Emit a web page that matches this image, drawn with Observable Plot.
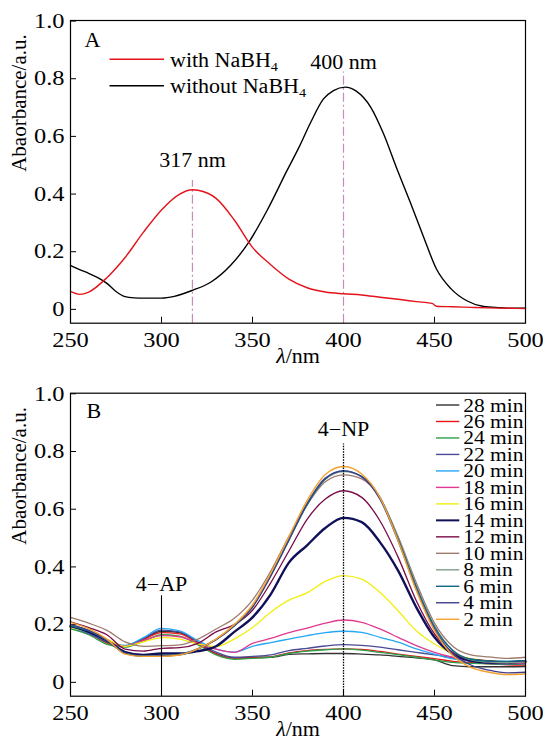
<!DOCTYPE html>
<html><head><meta charset="utf-8">
<script src="https://cdn.jsdelivr.net/npm/d3@7"></script>
<script src="https://cdn.jsdelivr.net/npm/@observablehq/plot@0.6"></script>
<style>
body{margin:0;background:#fff;}
#wrap{width:543px;}
#wrap svg{display:block;}
#wrap svg, #wrap svg text{font-family:"Liberation Serif","Times New Roman",serif !important;}
</style></head><body><div id="wrap"></div>
<script>
// ---------- shared axes ----------
const xTicks = [250, 300, 350, 400, 450, 500];
const yTicks = [0, 0.2, 0.4, 0.6, 0.8, 1.0];
const xDomain = [250, 500];
const yDomain = [-0.048, 1.002];
const xLabel = "λ/nm";
const yLabel = "Abaorbance/a.u.";

// ---------- panel A ----------
const aSeries = ["with NaBH4", "without NaBH4"];
const aColors = ["#e3121b", "#000000"];
const aRedNm  = [250, 255, 260, 270, 280, 290, 300, 310, 317, 320, 330, 340, 350, 360, 370, 380, 390, 400, 410, 420, 430, 440, 449, 451, 460, 470, 480, 490, 500];
const aRedAbs = [0.062, 0.052, 0.060, 0.110, 0.180, 0.267, 0.345, 0.400, 0.415, 0.413, 0.385, 0.310, 0.215, 0.155, 0.105, 0.075, 0.060, 0.054, 0.050, 0.042, 0.035, 0.027, 0.020, 0.011, 0.009, 0.007, 0.005, 0.004, 0.003];
const aBlackNm  = [250, 255, 260, 265, 270, 275, 280, 285, 290, 300, 307, 317, 327, 338, 348, 358, 369, 376, 382, 389, 394.5, 401, 407, 415, 422, 429, 437, 444, 451, 459, 468, 477, 486, 492, 500];
const aBlackAbs = [0.153, 0.138, 0.125, 0.110, 0.090, 0.062, 0.044, 0.040, 0.039, 0.039, 0.045, 0.066, 0.094, 0.153, 0.233, 0.343, 0.482, 0.568, 0.649, 0.730, 0.759, 0.771, 0.757, 0.701, 0.609, 0.493, 0.366, 0.251, 0.141, 0.072, 0.029, 0.010, 0.006, 0.004, 0.004];
const aPeakNm = [317, 400];
const aPeakTop = [0.447, 0.823];
const aPeakLabel = ["317 nm", "400 nm"];
const aPeakLabelAbs = [0.493, 0.834];

// ---------- panel B ----------
const bNm = [250, 260, 270, 280, 290, 300, 310, 320, 330, 340, 350, 360, 370, 380, 390, 400, 410, 420, 430, 440, 450, 460, 470, 480, 490, 500];
const bSeries = ["28 min", "26 min", "24 min", "22 min", "20 min", "18 min", "16 min", "14 min", "12 min", "10 min", "8 min", "6 min", "4 min", "2 min"];
const bColors = ["#333333", "#e8161b", "#2ca04a", "#4a4a96", "#25a7f5", "#e0398f", "#f2ee10", "#10105a", "#7a0b48", "#9e7a6e", "#839d8c", "#0f6a82", "#3e3e8e", "#f5a12e"];
const b28 = [0.190,0.170,0.138,0.125,0.150,0.177,0.172,0.138,0.100,0.085,0.087,0.087,0.097,0.099,0.100,0.100,0.098,0.095,0.090,0.085,0.078,0.058,0.054,0.054,0.054,0.055];
const b26 = [0.190,0.170,0.137,0.125,0.148,0.172,0.168,0.135,0.098,0.083,0.085,0.088,0.102,0.110,0.114,0.116,0.114,0.107,0.098,0.090,0.082,0.073,0.068,0.064,0.061,0.060];
const b24 = [0.185,0.165,0.132,0.122,0.142,0.165,0.160,0.130,0.095,0.080,0.083,0.087,0.100,0.108,0.113,0.116,0.112,0.104,0.096,0.087,0.078,0.069,0.066,0.064,0.062,0.064];
const b22 = [0.190,0.170,0.140,0.125,0.152,0.181,0.175,0.140,0.105,0.087,0.090,0.095,0.110,0.118,0.126,0.131,0.128,0.122,0.113,0.104,0.095,0.085,0.073,0.066,0.064,0.065];
const b20 = [0.190,0.172,0.145,0.128,0.155,0.187,0.178,0.145,0.115,0.105,0.125,0.138,0.150,0.162,0.172,0.177,0.173,0.156,0.139,0.116,0.098,0.081,0.075,0.073,0.073,0.075];
const b18 = [0.195,0.175,0.145,0.125,0.145,0.162,0.158,0.135,0.115,0.104,0.135,0.152,0.172,0.188,0.205,0.216,0.208,0.185,0.156,0.127,0.104,0.087,0.075,0.069,0.067,0.068];
const b16 = [0.190,0.175,0.150,0.125,0.140,0.155,0.150,0.133,0.124,0.150,0.190,0.243,0.285,0.310,0.350,0.370,0.358,0.312,0.248,0.179,0.133,0.100,0.082,0.075,0.070,0.070];
const b14 = [0.195,0.175,0.145,0.105,0.095,0.100,0.100,0.108,0.125,0.175,0.225,0.305,0.415,0.475,0.535,0.570,0.555,0.486,0.387,0.260,0.156,0.098,0.075,0.069,0.069,0.072];
const b12 = [0.210,0.190,0.165,0.115,0.108,0.118,0.120,0.135,0.175,0.200,0.250,0.345,0.455,0.565,0.635,0.664,0.641,0.560,0.434,0.283,0.168,0.104,0.080,0.075,0.070,0.072];
const b10 = [0.225,0.205,0.180,0.140,0.125,0.127,0.130,0.150,0.185,0.222,0.285,0.385,0.505,0.615,0.695,0.719,0.705,0.640,0.505,0.345,0.205,0.125,0.095,0.088,0.083,0.087];
const b8  = [0.198,0.180,0.147,0.100,0.091,0.092,0.097,0.117,0.150,0.197,0.262,0.370,0.493,0.615,0.703,0.730,0.713,0.642,0.500,0.335,0.195,0.112,0.078,0.070,0.068,0.070];
const b6  = [0.195,0.178,0.145,0.100,0.091,0.092,0.096,0.116,0.148,0.195,0.260,0.368,0.492,0.616,0.705,0.733,0.714,0.640,0.497,0.330,0.192,0.110,0.080,0.074,0.073,0.075];
const b4  = [0.200,0.180,0.148,0.100,0.090,0.091,0.095,0.115,0.148,0.196,0.262,0.370,0.495,0.620,0.708,0.733,0.712,0.635,0.490,0.322,0.185,0.100,0.060,0.042,0.033,0.035];
const b2  = [0.208,0.186,0.150,0.098,0.090,0.090,0.095,0.116,0.150,0.200,0.268,0.378,0.505,0.630,0.720,0.748,0.722,0.641,0.491,0.318,0.179,0.093,0.052,0.035,0.027,0.029];
const bValues = [b28, b26, b24, b22, b20, b18, b16, b14, b12, b10, b8, b6, b4, b2];
const bWidths = [1.3,1.3,1.3,1.3,1.3,1.3,1.3,2.4,1.3,1.3,1.3,1.3,1.3,1.4];
const bMarkNm = [300, 400];
const bMarkTop = [0.30, 0.826];
const bMarkLabel = ["4\u2212AP", "4\u2212NP"];
const bMarkLabelAbs = [0.318, 0.855];

// ---------- helpers ----------
const W = 543, H = 370, ML = 70, MR = 18;
const FONT = '"Liberation Serif", "Times New Roman", serif';
const FS = 20;            // general font size
const TICK_FS = 21;       // tick label font size
const STRETCH = 1.1;      // the original figure's glyphs are wider than tall
const TICK_STRETCH = 1.16;
const fmtY = d => d === 0 ? "0" : d.toFixed(1);

function panel(marginTop, marginBottom, marks) {
  const innerH = H - marginTop - marginBottom;
  const innerW = W - ML - MR;
  const svg = Plot.plot({
    width: W, height: H, marginLeft: ML, marginRight: MR, marginTop, marginBottom,
    style: {fontFamily: FONT, fontSize: FS + "px", color: "#000", background: "#fff", overflow: "visible"},
    x: {domain: xDomain},
    y: {domain: yDomain},
    marks: [
      Plot.axisX({ticks: xTicks, tickSize: 0, tickPadding: 9, tickFormat: d => String(d), label: null, fontSize: TICK_FS}),
      Plot.axisY({ticks: yTicks, tickSize: 0, tickPadding: 6, tickFormat: fmtY, label: null, fontSize: TICK_FS}),
      Plot.tickX(xTicks, {x: d => d, insetTop: innerH - 6, stroke: "#000", strokeWidth: 1}),
      Plot.tickY(yTicks, {y: d => d, insetRight: innerW - 6, stroke: "#000", strokeWidth: 1}),
      ...marks,
      Plot.frame({stroke: "#000", strokeWidth: 1.2}),
      Plot.text([xLabel], {frameAnchor: "bottom", dy: 40, lineAnchor: "bottom", text: d => d, fontSize: FS}),
      Plot.text([yLabel], {frameAnchor: "left", dx: -44.5, rotate: -90, lineAnchor: "bottom", text: d => d, fontSize: 21})
    ]
  });
  svg.setAttribute("font-family", FONT);
  svg.setAttribute("font-size", FS);
  return svg;
}

function italicLambda(svg) {
  d3.select(svg).selectAll("text").filter(function() { return this.textContent === xLabel; })
    .each(function() {
      const t = d3.select(this);
      t.text(null);
      t.append("tspan").attr("font-style", "italic").text("λ");
      t.append("tspan").text("/nm");
    });
}

function subText(sel, s) {
  const m = s.match(/^(.*?)(\d+)$/);
  if (m && s.includes("NaBH")) {
    sel.append("tspan").text(m[1]);
    sel.append("tspan").attr("font-size", "13px").attr("dy", 4).text(m[2]);
  } else sel.text(s);
}

function stretchTexts(svg) {
  d3.select(svg).selectAll("text").each(function() {
    const tr = this.getAttribute("transform") || "";
    if (tr.includes("rotate")) return;
    const g = this.closest("g");
    const isTick = g && (g.getAttribute("aria-label") || "").includes("tick label");
    const k = isTick ? TICK_STRETCH : STRETCH;
    const len = this.getComputedTextLength();
    if (len > 0) {
      this.setAttribute("textLength", (len * k).toFixed(2));
      this.setAttribute("lengthAdjust", "spacingAndGlyphs");
    }
  });
}

// ---------- Panel A ----------
const redRows = aRedNm.map((nm, i) => ({nm, abs: aRedAbs[i]}));
const blackRows = aBlackNm.map((nm, i) => ({nm, abs: aBlackAbs[i]}));
const aPeaks = aPeakNm.map((nm, i) => ({nm, top: aPeakTop[i], label: aPeakLabel[i], ly: aPeakLabelAbs[i]}));

const plotA = panel(20, 47.3, [
  Plot.ruleX(aPeaks, {x: "nm", y1: () => yDomain[0], y2: "top", stroke: "#c98bb9", strokeWidth: 1.2, strokeDasharray: "9,3,2,3"}),
  Plot.line(blackRows, {x: "nm", y: "abs", stroke: aColors[1], strokeWidth: 1.4, curve: "monotone-x"}),
  Plot.line(redRows, {x: "nm", y: "abs", stroke: aColors[0], strokeWidth: 1.4, curve: "monotone-x"}),
  Plot.text(aPeaks, {x: "nm", y: "ly", text: "label", lineAnchor: "bottom", fontSize: FS})
]);
italicLambda(plotA);
{
  const s = d3.select(plotA);
  s.append("text").attr("x", 84.5).attr("y", 46.7).attr("font-size", FS).attr("text-anchor", "start").attr("fill", "#000").text("A");
  aSeries.forEach((name, i) => {
    const y = 59.3 + i * 26.4;
    s.append("line").attr("x1", 109.5).attr("x2", 164).attr("y1", y).attr("y2", y)
      .attr("stroke", aColors[i]).attr("stroke-width", 1.4);
    const t = s.append("text").attr("x", 170).attr("y", y + 7.2).attr("font-size", FS)
      .attr("text-anchor", "start").attr("fill", "#000");
    subText(t, name);
  });
}
document.getElementById("wrap").appendChild(plotA);
stretchTexts(plotA);

// ---------- Panel B ----------
const bMarks = bMarkNm.map((nm, i) => ({nm, top: bMarkTop[i], label: bMarkLabel[i], ly: bMarkLabelAbs[i]}));
const bLines = bSeries.map((name, i) =>
  Plot.line(bNm.map((nm, j) => ({nm, abs: bValues[i][j]})),
    {x: "nm", y: "abs", stroke: bColors[i], strokeWidth: bWidths[i], curve: "monotone-x"}));

const plotB = panel(22.7, 44.3, [
  ...bLines,
  Plot.ruleX([bMarks[0]], {x: "nm", y1: () => yDomain[0], y2: "top", stroke: "#000", strokeWidth: 1.1}),
  Plot.ruleX([bMarks[1]], {x: "nm", y1: () => yDomain[0], y2: "top", stroke: "#000", strokeWidth: 1.3, strokeDasharray: "1.5,1.2"}),
  Plot.text(bMarks, {x: "nm", y: "ly", text: "label", lineAnchor: "bottom", fontSize: FS})
]);
italicLambda(plotB);
{
  const s = d3.select(plotB);
  s.append("text").attr("x", 86.4).attr("y", 48.3).attr("font-size", FS).attr("text-anchor", "start").attr("fill", "#000").text("B");
  bSeries.forEach((name, i) => {
    const y = 35 + i * 16.48;
    s.append("line").attr("x1", 436).attr("x2", 459.3).attr("y1", y).attr("y2", y)
      .attr("stroke", bColors[i]).attr("stroke-width", bWidths[i] > 2 ? 2 : 1.4);
    s.append("text").attr("x", 463.3).attr("y", y + 6.5).attr("font-size", 19.5)
      .attr("text-anchor", "start").attr("fill", "#000").text(name);
  });
}
document.getElementById("wrap").appendChild(plotB);
stretchTexts(plotB);
</script>
</body></html>
